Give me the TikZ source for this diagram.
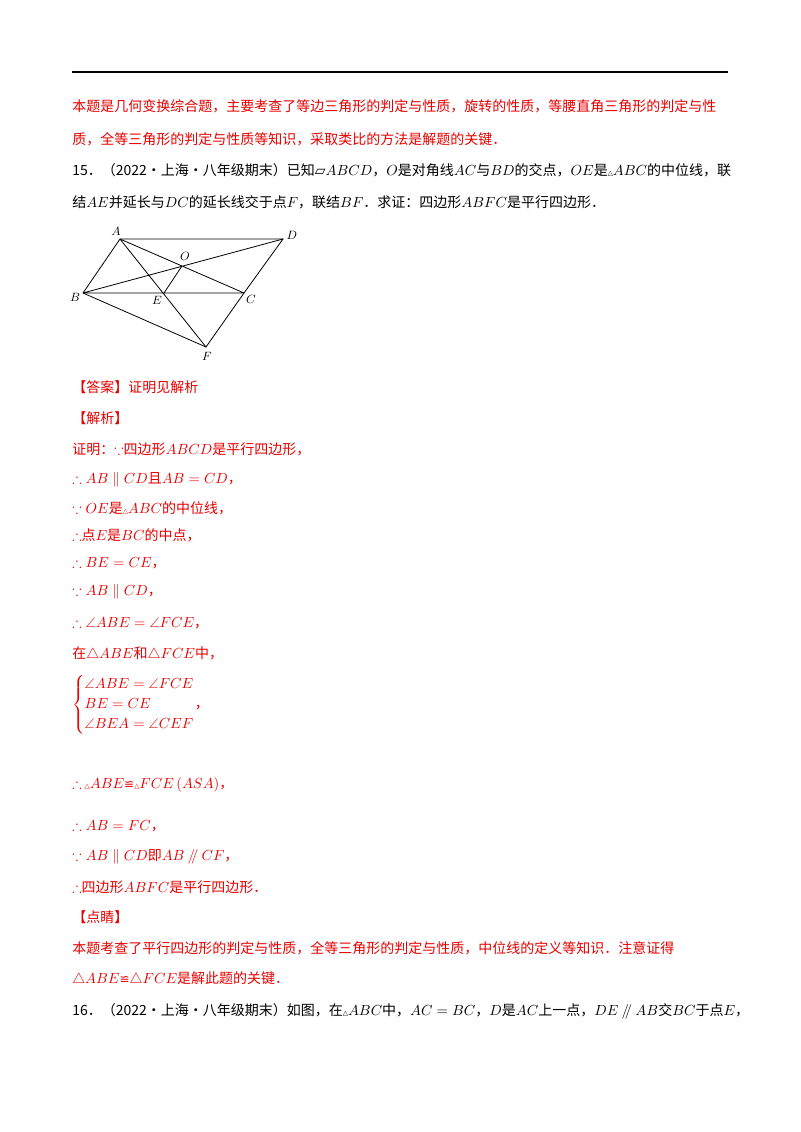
\documentclass[tikz,border=0pt]{standalone}
\usepackage{amsmath,amssymb}
\usepackage{fontspec}
\setmainfont{Noto Sans CJK SC}
\newfontfamily\djv{DejaVu Sans}
\definecolor{rd}{RGB}{230,0,0}
\begin{document}
\begin{tikzpicture}[x=0.75pt,y=-0.75pt,
  t/.style={anchor=west,inner sep=0pt,font=\fontsize{10.5}{12}\selectfont},
  r/.style={t,text=rd},
  lbl/.style={inner sep=1pt,font=\fontsize{9}{10}\selectfont},
  ln/.style={line width=0.6pt}]
\useasboundingbox (0,0) rectangle (800,1132);
\draw[line width=1.2pt] (72,72) -- (728,72);
\node[r] (p1) at (72,106) {本题是几何变换综合题，主要考查了等边三角形的判定与性质，旋转的性质，等腰直角三角形的判定与性};
\node[r] (p2) at (72,139) {质，全等三角形的判定与性质等知识，采取类比的方法是解题的关键．};
\node[t] (q1) at (72,170) {15．（2022·上海·八年级期末）已知{\djv ▱}$ABCD$，$O$是对角线$AC$与$BD$的交点，$OE$是{\djv\tiny △}$ABC$的中位线，联};
\node[t] (q2) at (72,202) {结$AE$并延长与$DC$的延长线交于点$F$，联结$BF$．求证：四边形$ABFC$是平行四边形．};
% figure
\coordinate (A) at (120,239); \coordinate (D) at (283,239);
\coordinate (B) at (83,293); \coordinate (C) at (244,293);
\coordinate (E) at (164,293); \coordinate (O) at (182,266);
\coordinate (F) at (206,347);
\draw[ln] (A)--(D)--(C)--(F)--(B)--cycle;
\draw[ln] (A)--(C) (B)--(D) (B)--(C) (A)--(F) (O)--(E);
\node[lbl] at (116,231) {$A$}; \node[lbl] at (292,235) {$D$};
\node[lbl] at (75,297) {$B$}; \node[lbl] at (251,299) {$C$};
\node[lbl] at (157,300) {$E$}; \node[lbl] at (185,256) {$O$};
\node[lbl] at (207,356) {$F$};
% solution
\node[r] at (72,387) {【答案】证明见解析};
\node[r] at (72,418) {【解析】};
\node[r] at (72,449) {证明：$\because$四边形$ABCD$是平行四边形，};
\node[r] at (72,480) {$\therefore AB\parallel CD$且$AB=CD$，};
\node[r] at (72,508) {$\because OE$是{\djv\tiny △}$ABC$的中位线，};
\node[r] at (72,535) {$\therefore$点$E$是$BC$的中点，};
\node[r] at (72,563) {$\therefore BE=CE$，};
\node[r] at (72,592) {$\because AB\parallel CD$，};
\node[r] at (72,623) {$\therefore \angle ABE=\angle FCE$，};
\node[r] at (72,654) {在$\triangle ABE$和$\triangle FCE$中，};
\node[r] at (72,705) {$\left\{\begin{aligned}&\angle ABE=\angle FCE\\&BE=CE\\&\angle BEA=\angle CEF\end{aligned}\right.$，};
\node[r] at (72,785) {$\therefore$ {\djv\tiny △}$ABE${\djv\small ≌}{\djv\tiny △}$FCE\left(ASA\right)$，};
\node[r] at (72,826) {$\therefore AB=FC$，};
\node[r] at (72,857) {$\because AB\parallel CD$即$AB\mathbin{/\mkern-5mu/}CF$，};
\node[r] at (72,887) {$\therefore$四边形$ABFC$是平行四边形．};
\node[r] at (72,917) {【点睛】};
\node[r] at (72,948) {本题考查了平行四边形的判定与性质，全等三角形的判定与性质，中位线的定义等知识．注意证得};
\node[r] at (72,979) {$\triangle ABE${\djv\small ≌}$\triangle FCE$是解此题的关键．};
\node[t] at (72,1011) {16．（2022·上海·八年级期末）如图，在{\djv\tiny △}$ABC$中，$AC=BC$，$D$是$AC$上一点，$DE\mathbin{/\mkern-5mu/}AB$交$BC$于点$E$，};
\end{tikzpicture}
\end{document}
